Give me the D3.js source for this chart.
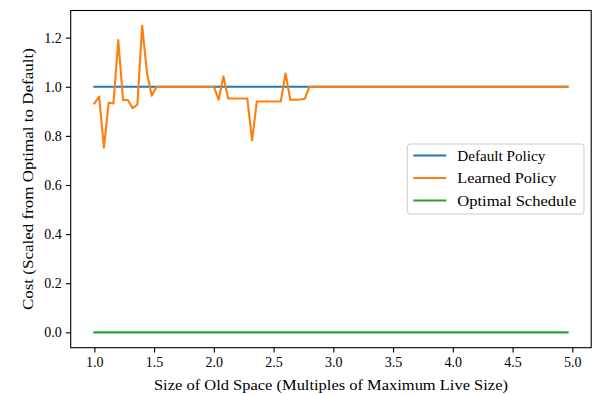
<!DOCTYPE html>
<html>
<head>
<meta charset="utf-8">
<script src="https://cdn.jsdelivr.net/npm/d3@7"></script>
<style>
  html, body { margin: 0; padding: 0; background: #fff; }
  svg text { font-family: "Liberation Serif", "DejaVu Serif", serif; fill: #000; }
</style>
</head>
<body>
<svg id="chart" width="592" height="395"></svg>
<script>
// Old-space sizes: 1.00 to 4.96 in steps of 0.04 (multiples of max live size)
const sizes = d3.range(100).map(i => +(1 + 0.04 * i).toFixed(2));

// Learned-policy cost, scaled so optimal = 0 and default = 1
const learnedHead = [0.932, 0.960, 0.752, 0.935, 0.932, 1.190, 0.946, 0.946, 0.913, 0.927,
                     1.249, 1.058, 0.963, 1.000, 1.000, 1.000, 1.000, 1.000, 1.000, 1.000,
                     1.000, 1.000, 1.000, 1.000, 1.000, 1.000, 0.947, 1.042, 0.952, 0.952,
                     0.952, 0.952, 0.952, 0.782, 0.940, 0.940, 0.940, 0.940, 0.940, 0.940,
                     1.054, 0.947, 0.947, 0.948, 0.951, 1.000];
const learned = sizes.map((s, i) => i < learnedHead.length ? learnedHead[i] : 1.0);
const defaultCost = sizes.map(() => 1.0);
const optimalCost = sizes.map(() => 0.0);

const seriesNames = ["Default Policy", "Learned Policy", "Optimal Schedule"];
const seriesColors = ["#1f77b4", "#ff7f0e", "#2ca02c"];
const seriesValues = [defaultCost, learned, optimalCost];

const xTicks = [1.0, 1.5, 2.0, 2.5, 3.0, 3.5, 4.0, 4.5, 5.0];
const yTicks = [0.0, 0.2, 0.4, 0.6, 0.8, 1.0, 1.2];

const svg = d3.select("#chart");
const plot = { left: 70.7, top: 10.5, right: 591.2, bottom: 347.7 };

const x = d3.scaleLinear().domain([0.802, 5.158]).range([plot.left, plot.right]);
const y = d3.scaleLinear().domain([-0.0624, 1.3104]).range([plot.bottom, plot.top]);

// axes
const xAxis = d3.axisBottom(x).tickValues(xTicks).tickFormat(d3.format(".1f")).tickSize(4.9).tickPadding(4);
const yAxis = d3.axisLeft(y).tickValues(yTicks).tickFormat(d3.format(".1f")).tickSize(4.9).tickPadding(4);

const gx = svg.append("g").attr("transform", `translate(0,${plot.bottom})`).call(xAxis);
const gy = svg.append("g").attr("transform", `translate(${plot.left},0)`).call(yAxis);
[gx, gy].forEach(g => {
  g.select(".domain").remove();
  g.selectAll(".tick line").attr("stroke", "#000").attr("stroke-width", 1.1);
  g.selectAll(".tick text").attr("font-size", 14).attr("font-family", "Liberation Serif");
});

// lines
const line = d3.line().x((d, i) => x(sizes[i])).y(d => y(d));
seriesValues.forEach((vals, k) => {
  svg.append("path")
    .datum(vals)
    .attr("d", line)
    .attr("fill", "none")
    .attr("stroke", seriesColors[k])
    .attr("stroke-width", 2.1)
    .attr("stroke-linejoin", "round")
    .attr("stroke-linecap", "square");
});

// frame
svg.append("rect")
  .attr("x", plot.left).attr("y", plot.top)
  .attr("width", plot.right - plot.left).attr("height", plot.bottom - plot.top)
  .attr("fill", "none").attr("stroke", "#000").attr("stroke-width", 1.1);

// axis titles
svg.append("text")
  .attr("x", (plot.left + plot.right) / 2).attr("y", 389.5)
  .attr("text-anchor", "middle").attr("font-size", 15)
  .attr("textLength", 354).attr("lengthAdjust", "spacingAndGlyphs")
  .text("Size of Old Space (Multiples of Maximum Live Size)");
svg.append("text")
  .attr("transform", `translate(33,${(plot.top + plot.bottom) / 2}) rotate(-90)`)
  .attr("text-anchor", "middle").attr("font-size", 15)
  .attr("textLength", 262).attr("lengthAdjust", "spacingAndGlyphs")
  .text("Cost (Scaled from Optimal to Default)");

// legend
const legendWidths = [88, 99, 119];
const lg = svg.append("g").attr("transform", "translate(407.3,144)");
lg.append("rect")
  .attr("width", 176.7).attr("height", 70).attr("rx", 3)
  .attr("fill", "#fff").attr("fill-opacity", 0.8)
  .attr("stroke", "#ccc").attr("stroke-width", 1);
seriesNames.forEach((name, k) => {
  const row = lg.append("g").attr("transform", `translate(0,${11.5 + k * 22.5})`);
  row.append("line").attr("x1", 6).attr("x2", 39).attr("y1", 0).attr("y2", 0)
    .attr("stroke", seriesColors[k]).attr("stroke-width", 2.1);
  row.append("text").attr("x", 50).attr("y", 0).attr("dy", "0.35em")
    .attr("font-size", 15)
    .attr("textLength", legendWidths[k]).attr("lengthAdjust", "spacingAndGlyphs")
    .text(name);
});
</script>
</body>
</html>
